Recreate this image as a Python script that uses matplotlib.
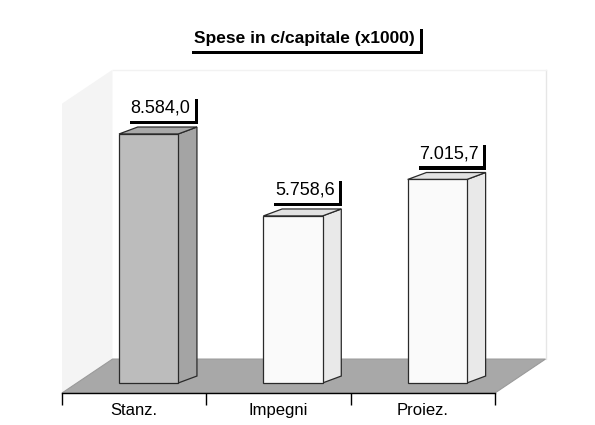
import matplotlib
matplotlib.use("Agg")
import matplotlib.pyplot as plt
from matplotlib.patches import Polygon
import matplotlib.patheffects as pe

plt.rcParams['font.family'] = ['Liberation Sans', 'DejaVu Sans']

categories = ["Stanz.", "Impegni", "Proiez."]
values = [8584.0, 5758.6, 7015.7]
value_labels = ["8.584,0", "5.758,6", "7.015,7"]
title = "Spese in c/capitale (x1000)"

front_colors = ["#bcbcbc", "#fafafa", "#fafafa"]
side_colors = ["#a4a4a4", "#e9e9e9", "#e9e9e9"]
top_colors = ["#a9a9a9", "#e2e2e2", "#e2e2e2"]

fig = plt.figure(figsize=(5.95, 4.25), dpi=100)
ax = fig.add_axes([62/595, 32/425, 433/595, 333/425])
YMIN, YMAX = -345, 11134
ax.set_xlim(-0.5, 2.5)
ax.set_ylim(YMIN, YMAX)

# 3D depth offsets (data units)
DX, DY = 0.13, 240
FDX, FDY = 0.35, 1170
BAR_SHIFT, BAR_W = 0.1, 0.41

# back walls (very faint)
wall_top = 10800
left_wall = Polygon([(-0.5, YMIN), (-0.5 + FDX, YMIN + FDY), (-0.5 + FDX, wall_top),
                     (-0.5, wall_top - FDY)], closed=True, fc="#f4f4f4", ec="none",
                    zorder=0, clip_on=False)
ax.add_patch(left_wall)
ax.plot([2.5 + FDX, 2.5 + FDX], [YMIN + FDY, wall_top], color="#e6e6e6", lw=1,
        zorder=0, clip_on=False)
ax.plot([-0.5 + FDX, 2.5 + FDX], [wall_top, wall_top], color="#f2f2f2", lw=1,
        zorder=0, clip_on=False)

# floor
floor = Polygon([(-0.5, YMIN), (2.5, YMIN), (2.5 + FDX, YMIN + FDY), (-0.5 + FDX, YMIN + FDY)],
                closed=True, fc="#a8a8a8", ec="#9a9a9a", lw=0.8, zorder=1, clip_on=False)
ax.add_patch(floor)

xs = [i + BAR_SHIFT for i in range(len(categories))]
bars = ax.bar(xs, values, width=BAR_W, color=front_colors, edgecolor="#2a2a2a",
              linewidth=0.9, zorder=3)
for x, v, sc, tc in zip(xs, values, side_colors, top_colors):
    l, r = x - BAR_W/2, x + BAR_W/2
    side = Polygon([(r, 0), (r + DX, DY), (r + DX, v + DY), (r, v)], closed=True,
                   fc=sc, ec="#2a2a2a", lw=0.9, zorder=2)
    top = Polygon([(l, v), (r, v), (r + DX, v + DY), (l + DX, v + DY)], closed=True,
                  fc=tc, ec="#2a2a2a", lw=0.9, zorder=2)
    ax.add_patch(side)
    ax.add_patch(top)

shadow = [pe.SimplePatchShadow(offset=(2.4, -2.4), shadow_rgbFace="black", alpha=1.0),
          pe.Normal()]

# value labels with black drop shadow
for x, v, lab in zip(xs, values, value_labels):
    t = ax.annotate(lab, xy=(x, v), xytext=(12, 17), textcoords="offset pixels",
                    ha="center", va="bottom", fontsize=13, color="black",
                    bbox=dict(boxstyle="square,pad=0.22", fc="white", ec="none"), zorder=5)
    t.get_bbox_patch().set_path_effects(shadow)

# axis
for s in ["top", "right", "left"]:
    ax.spines[s].set_visible(False)
ax.spines["bottom"].set_color("black")
ax.spines["bottom"].set_linewidth(1)
ax.set_yticks([])
ax.set_xticks(range(len(categories)))
ax.set_xticklabels(categories, fontsize=12)
ax.tick_params(axis="x", which="major", length=0, pad=7)
ax.set_xticks([-0.5, 0.5, 1.5, 2.5], minor=True)
ax.tick_params(axis="x", which="minor", length=8.5, width=1, color="black", direction="out")
ax.patch.set_visible(False)

# title with shadow
tx, ty = 304/595, 1 - 38/425
tt = fig.text(tx, ty, title, ha="center", va="center", fontsize=12.5, fontweight="bold",
              color="black", bbox=dict(boxstyle="square,pad=0.3", fc="white", ec="none"))
tt.get_bbox_patch().set_path_effects(shadow)

fig.savefig("out.png", dpi=100)
